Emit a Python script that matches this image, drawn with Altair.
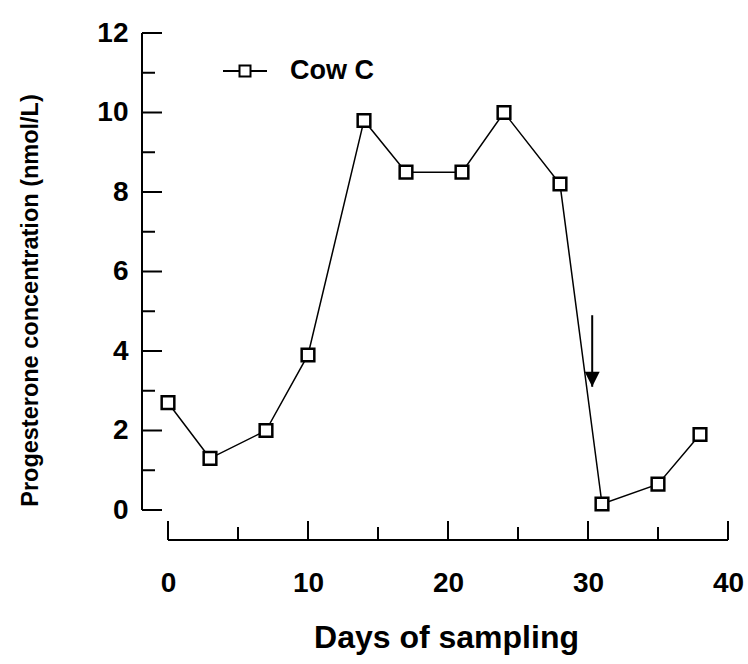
import altair as alt
import pandas as pd

# Progesterone profile of one cow over the sampling period
days = [0, 3, 7, 10, 14, 17, 21, 24, 28, 31, 35, 38]
progesterone = [2.7, 1.3, 2.0, 3.9, 9.8, 8.5, 8.5, 10.0, 8.2, 0.15, 0.65, 1.9]
series_name = "Cow C"

# Axis tick positions
y_major = [0, 2, 4, 6, 8, 10, 12]
y_minor = [1, 3, 5, 7, 9, 11]
x_major = [0, 10, 20, 30, 40]
x_minor = [5, 15, 25, 35]

# Event marker (arrow) on the declining limb
arrow_day = [30.3]
arrow_from = [4.9]
arrow_to = [3.1]

W, H = 560, 477
FONT = "Liberation Sans"
Y_FRAME = -26      # y-axis line sits left of day 0
X_FRAME = H + 30   # x-axis line sits below value 0

x_scale = alt.Scale(domain=[0, 40], nice=False, zero=False)
y_scale = alt.Scale(domain=[0, 12], nice=False, zero=False)

df = pd.DataFrame({"day": days, "p": progesterone, "series": [series_name] * len(days)})

x_axis = alt.Axis(
    values=x_major, ticks=False, domain=False, grid=False, labelFlush=False,
    labelFont=FONT, labelFontSize=28, labelFontWeight="bold", labelColor="black",
    labelPadding=73, labelBaseline="middle",
    title="Days of sampling", titleFont=FONT, titleFontSize=32, titleFontWeight="bold",
    titleColor="black", titleX=W / 2 - 2, titleY=127, titleBaseline="middle", titleAlign="center",
)
y_axis = alt.Axis(
    values=y_major, ticks=False, domain=False, grid=False, labelFlush=False,
    labelFont=FONT, labelFontSize=28, labelFontWeight="bold", labelColor="black",
    labelPadding=40,
    title="Progesterone concentration (nmol/L)", titleFont=FONT, titleFontSize=23.5,
    titleFontWeight="bold", titleColor="black", titleX=-138, titleY=267,
    titleAngle=270, titleBaseline="middle", titleAlign="center",
)

legend_symbol = "M-1,0H-0.25M0.25,0H1M-0.25,-0.25H0.25V0.25H-0.25Z"

line = alt.Chart(df).mark_line(strokeWidth=1.5).encode(
    x=alt.X("day:Q", scale=x_scale, axis=x_axis),
    y=alt.Y("p:Q", scale=y_scale, axis=y_axis),
    color=alt.Color(
        "series:N",
        scale=alt.Scale(domain=[series_name], range=["black"]),
        legend=alt.Legend(
            orient="none", legendX=54, legendY=15, title=None, padding=0,
            symbolType=legend_symbol, symbolSize=1936, symbolStrokeWidth=2,
            symbolFillColor="white", symbolStrokeColor="black",
            labelFont=FONT, labelFontSize=27, labelFontWeight="bold",
            labelColor="black", labelOffset=22,
        ),
    ),
)

points = alt.Chart(df).mark_point(
    shape="square", size=160, filled=True, fill="white", stroke="black",
    strokeWidth=2.5, opacity=1,
).encode(
    x=alt.X("day:Q", scale=x_scale),
    y=alt.Y("p:Q", scale=y_scale),
)

# Axis frame: lines and inward ticks
frame = pd.DataFrame({"k": [0]})
y_line = alt.Chart(frame).mark_rule(color="black", strokeWidth=2).encode(
    x=alt.value(Y_FRAME), y=alt.value(0), y2=alt.value(H)
)
x_line = alt.Chart(frame).mark_rule(color="black", strokeWidth=2).encode(
    y=alt.value(X_FRAME), x=alt.value(0), x2=alt.value(W)
)
y_major_ticks = alt.Chart(pd.DataFrame({"v": y_major})).mark_rule(color="black", strokeWidth=2).encode(
    y=alt.Y("v:Q", scale=y_scale), x=alt.value(Y_FRAME), x2=alt.value(Y_FRAME + 20)
)
y_minor_ticks = alt.Chart(pd.DataFrame({"v": y_minor})).mark_rule(color="black", strokeWidth=2).encode(
    y=alt.Y("v:Q", scale=y_scale), x=alt.value(Y_FRAME), x2=alt.value(Y_FRAME + 13)
)
x_major_ticks = alt.Chart(pd.DataFrame({"d": x_major})).mark_rule(color="black", strokeWidth=2).encode(
    x=alt.X("d:Q", scale=x_scale), y=alt.value(X_FRAME), y2=alt.value(X_FRAME - 19)
)
x_minor_ticks = alt.Chart(pd.DataFrame({"d": x_minor})).mark_rule(color="black", strokeWidth=2).encode(
    x=alt.X("d:Q", scale=x_scale), y=alt.value(X_FRAME), y2=alt.value(X_FRAME - 13)
)

arrow_df = pd.DataFrame({"d": arrow_day, "y0": arrow_from, "y1": arrow_to})
arrow_shaft = alt.Chart(arrow_df).mark_rule(color="black", strokeWidth=2).encode(
    x=alt.X("d:Q", scale=x_scale), y=alt.Y("y0:Q", scale=y_scale), y2="y1:Q"
)
arrow_head = alt.Chart(arrow_df).mark_point(
    shape="M-1,-1L1,-1L0,1Z", size=225, filled=True, color="black", opacity=1, yOffset=-7.5
).encode(
    x=alt.X("d:Q", scale=x_scale), y=alt.Y("y1:Q", scale=y_scale)
)

chart = alt.layer(
    y_line, x_line, y_major_ticks, y_minor_ticks, x_major_ticks, x_minor_ticks,
    arrow_shaft, arrow_head, line, points,
).properties(
    width=W, height=H,
    autosize=alt.AutoSizeParams(type="none"),
    padding={"left": 168, "top": 33, "right": 20, "bottom": 154},
    background="white",
).configure_view(stroke=None)

chart.save("out.html", embed_options={"renderer": "svg", "actions": False})
